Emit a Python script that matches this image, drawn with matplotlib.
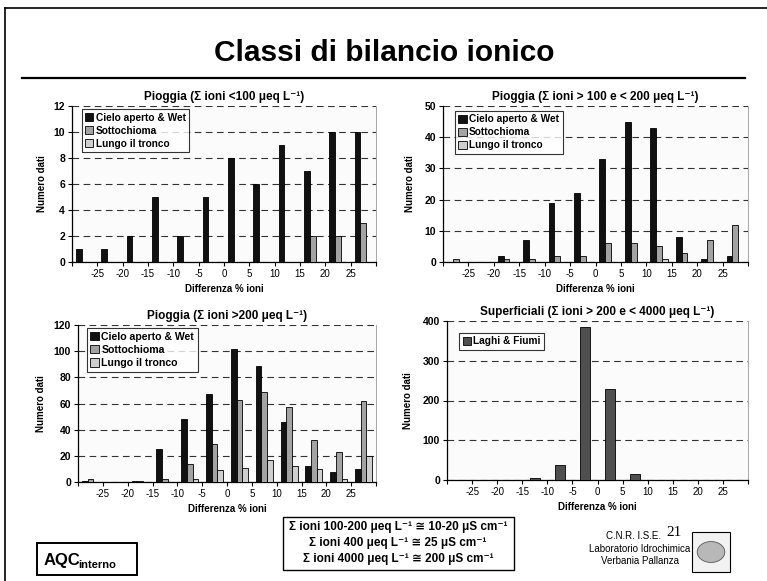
import matplotlib
matplotlib.use("Agg")
import matplotlib.pyplot as plt
from matplotlib.lines import Line2D
from matplotlib.patches import Rectangle, Patch, Circle
import numpy as np

plt.rcParams['font.family'] = ['Liberation Sans', 'DejaVu Sans']

# ---------------- data ----------------
bin_starts = [-30, -25, -20, -15, -10, -5, 0, 5, 10, 15, 20, 25]
tick_values = [-25, -20, -15, -10, -5, 0, 5, 10, 15, 20, 25]
series_names = ["Cielo aperto & Wet", "Sottochioma", "Lungo il tronco"]

p1_cielo = [1, 1, 2, 5, 2, 5, 8, 6, 9, 7, 10, 10]
p1_sotto = [0, 0, 0, 0, 0, 0, 0, 0, 0, 2, 2, 3]
p1_lungo = [0, 0, 0, 0, 0, 0, 0, 0, 0, 0, 0, 0]

p2_cielo = [0, 0, 2, 7, 19, 22, 33, 45, 43, 8, 1, 2]
p2_sotto = [1, 0, 1, 1, 2, 2, 6, 6, 5, 3, 7, 12]
p2_lungo = [0, 0, 0, 0, 0, 0, 0, 0, 1, 0, 0, 0]

p3_cielo = [1, 0, 1, 25, 48, 67, 102, 89, 46, 12, 8, 10]
p3_sotto = [2, 0, 1, 2, 14, 29, 63, 69, 57, 32, 23, 62]
p3_lungo = [0, 0, 0, 0, 2, 9, 11, 17, 12, 10, 2, 20]

sup_name = "Laghi & Fiumi"
sup_vals = [0, 0, 0, 4, 38, 386, 229, 15, 0, 0, 0, 0]

titles = ["Pioggia (\u03a3 ioni <100 \u03bceq L\u207b\u00b9)",
          "Pioggia (\u03a3 ioni > 100 e < 200 \u03bceq L\u207b\u00b9)",
          "Pioggia (\u03a3 ioni >200 \u03bceq L\u207b\u00b9)",
          "Superficiali (\u03a3 ioni > 200 e < 4000 \u03bceq L\u207b\u00b9)"]

# ---------------- style ----------------
C_BLACK = "#111111"
C_SOTTO = "#a3a3a3"
C_LUNGO = "#cfcfcf"
C_LAGHI = "#4f4f4f"
W, H = 767, 581

fig = plt.figure(figsize=(W / 100, H / 100), dpi=100)
fig.patch.set_facecolor("white")

def fx(px):
    return px / W

def fy(py):
    return 1 - py / H

# slide frame and title rule
fig.add_artist(Line2D([fx(5), fx(5)], [0, fy(8)], color="black", lw=1.2))
fig.add_artist(Line2D([fx(5), 1], [fy(8), fy(8)], color="black", lw=1.2))
fig.add_artist(Line2D([fx(22), fx(745)], [fy(78), fy(78)], color="black", lw=1.6))

fig.text(fx(384), fy(53), "Classi di bilancio ionico",
         fontsize=21.5, fontweight="bold", ha="center", va="center")


def setup_axes(ax, ymax, ystep, title, ylab_x):
    ax.set_facecolor("#fbfbfb")
    ax.set_xlim(-30, 30)
    ax.set_ylim(0, ymax)
    ax.set_yticks(np.arange(0, ymax + ystep / 2, ystep))
    ax.set_xticks([-30] + tick_values + [30])
    ax.set_xticklabels([""] + [str(v) for v in tick_values] + [""])
    ax.tick_params(axis="x", labelsize=7, length=3, width=0.8, pad=2)
    ax.tick_params(axis="y", labelsize=7.5, length=3, width=0.8, pad=2)
    for lab in ax.get_yticklabels():
        lab.set_fontweight("bold")
    ax.yaxis.grid(True, linestyle=(0, (6, 4)), color="#333333", lw=0.8)
    ax.set_axisbelow(True)
    ax.spines["top"].set_visible(False)
    ax.spines["right"].set_color("#999999")
    ax.spines["right"].set_linewidth(0.6)
    ax.spines["left"].set_linewidth(0.9)
    ax.spines["bottom"].set_linewidth(0.9)
    ax.set_title(title, fontsize=8.5, fontweight="bold", pad=4)
    ax.set_ylabel("Numero dati", fontsize=7, fontweight="bold")
    ax.yaxis.set_label_coords(ylab_x, 0.5)
    ax.set_xlabel("Differenza % ioni", fontsize=7, fontweight="bold", labelpad=4)


def grouped(ax, values, colors):
    w = 5 / (3 + 1.35)
    off = 1.35 * w / 2
    for i, (vals, col) in enumerate(zip(values, colors)):
        xs = [s + off + i * w for s in bin_starts]
        ax.bar(xs, vals, width=w, align="edge", color=col, edgecolor="black", lw=0.6, zorder=3)


def legend(ax, names, colors, anchor, fs):
    handles = [Patch(facecolor=c, edgecolor="black", lw=0.6) for c in colors]
    lg = ax.legend(handles, names, loc="upper left", bbox_to_anchor=anchor,
                   prop={"weight": "bold", "size": fs}, frameon=True, fancybox=False,
                   edgecolor="black", handlelength=0.8, handleheight=0.8,
                   handletextpad=0.25, labelspacing=0.3, borderpad=0.35, borderaxespad=0)
    lg.get_frame().set_linewidth(0.8)
    lg.set_zorder(5)


cols3 = [C_BLACK, C_SOTTO, C_LUNGO]

ax1 = fig.add_axes([fx(72), fy(262), fx(304), 156 / H])
setup_axes(ax1, 12, 2, titles[0], -0.082)
grouped(ax1, [p1_cielo, p1_sotto, p1_lungo], cols3)
legend(ax1, series_names, cols3, (0.032, 0.98), 7.3)

ax2 = fig.add_axes([fx(443), fy(262), fx(305), 156 / H])
setup_axes(ax2, 50, 10, titles[1], -0.092)
grouped(ax2, [p2_cielo, p2_sotto, p2_lungo], cols3)
legend(ax2, series_names, cols3, (0.039, 0.97), 7.3)

ax3 = fig.add_axes([fx(78), fy(482), fx(298), 157 / H])
setup_axes(ax3, 120, 20, titles[2], -0.107)
grouped(ax3, [p3_cielo, p3_sotto, p3_lungo], cols3)
legend(ax3, series_names, cols3, (0.029, 0.98), 7.6)

ax4 = fig.add_axes([fx(447), fy(480), fx(301), 159 / H])
setup_axes(ax4, 400, 100, titles[3], -0.113)
ax4.bar([s + 1.5 for s in bin_starts], sup_vals, width=2.0, align="edge",
        color=C_LAGHI, edgecolor="black", lw=0.6, zorder=3)
legend(ax4, [sup_name], [C_LAGHI], (0.04, 0.925), 7.3)

# ---------------- bottom annotations ----------------
fig.add_artist(Rectangle((fx(37), fy(575)), fx(100), 32 / H, transform=fig.transFigure,
                         facecolor="white", edgecolor="black", lw=1.4))
fig.text(fx(44), fy(561), "AQC", fontsize=12, fontweight="bold", va="center")
fig.text(fx(78), fy(565), "interno", fontsize=8, fontweight="bold", va="center")

fig.add_artist(Rectangle((fx(283), fy(570)), fx(231), 53 / H, transform=fig.transFigure,
                         facecolor="white", edgecolor="black", lw=1.0))
box_lines = ["\u03a3 ioni 100-200 \u03bceq L\u207b\u00b9 \u2245 10-20 \u03bcS cm\u207b\u00b9",
             "\u03a3 ioni 400 \u03bceq L\u207b\u00b9 \u2245 25 \u03bcS cm\u207b\u00b9",
             "\u03a3 ioni 4000 \u03bceq L\u207b\u00b9 \u2245 200 \u03bcS cm\u207b\u00b9"]
for i, t in enumerate(box_lines):
    fig.text(fx(398), fy(527 + 16 * i), t, fontsize=8.5, fontweight="bold",
             ha="center", va="center")

fig.text(fx(634), fy(536), "C.N.R. I.S.E.", fontsize=7, ha="center", va="center")
fig.text(fx(674), fy(532), "21", fontsize=11, family=["Liberation Serif", "DejaVu Serif"],
         ha="center", va="center")
fig.text(fx(640), fy(549), "Laboratorio Idrochimica", fontsize=7, ha="center", va="center")
fig.text(fx(640), fy(561), "Verbania Pallanza", fontsize=7, ha="center", va="center")
fig.add_artist(Rectangle((fx(692), fy(572)), fx(38), 40 / H, transform=fig.transFigure,
                         facecolor="#f2f2f2", edgecolor="black", lw=0.8))
fig.add_artist(Circle((fx(711), fy(552)), 0.018, transform=fig.transFigure,
                      facecolor="#b8b8b8", edgecolor="#555555", lw=0.6))

fig.savefig("out.png", dpi=100)
